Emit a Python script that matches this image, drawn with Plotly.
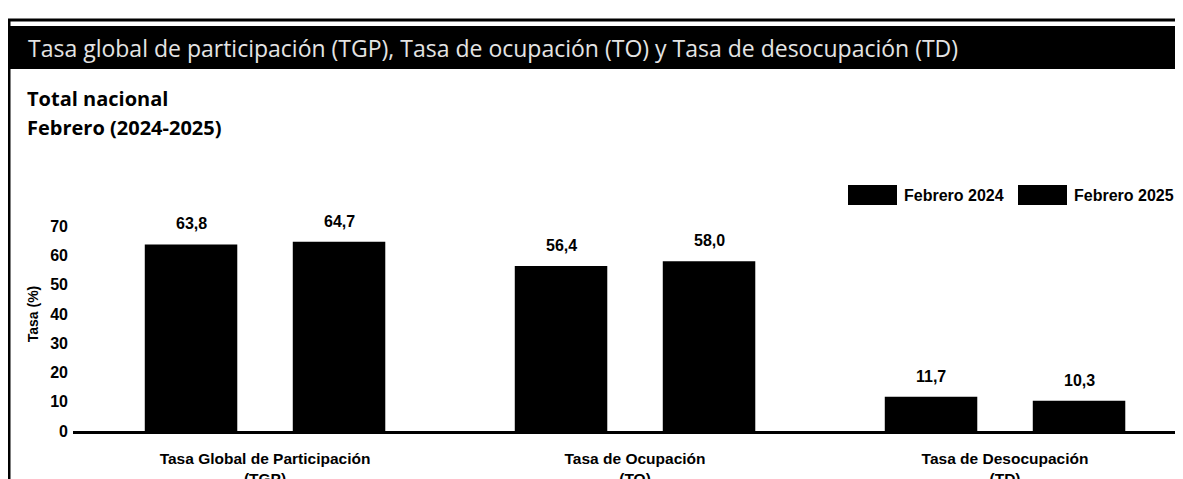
import plotly.graph_objects as go

# ---- data ----
categories = ["Tasa Global de Participación<br>(TGP)",
              "Tasa de Ocupación<br>(TO)",
              "Tasa de Desocupación<br>(TD)"]
series_names = ["Febrero 2024", "Febrero 2025"]
values_2024 = [63.8, 56.4, 11.7]
values_2025 = [64.7, 58.0, 10.3]
y_ticks = [0, 10, 20, 30, 40, 50, 60, 70]

title_text = "Tasa global de participación (TGP), Tasa de ocupación (TO) y Tasa de desocupación (TD)"
subtitle_1 = "Total nacional"
subtitle_2 = "Febrero (2024-2025)"
y_title = "Tasa (%)"

# ---- layout geometry (pixels) ----
# the page body has an 8px default margin, so the figure is offset by 8px
OFF = 8
W, H = 1183 - OFF, 479 - OFF
L, R = 73 - OFF, 0
T = 197 - OFF
B = H - (431 - OFF)
plot_w = W - L - R
plot_h = H - T - B


def px_x(x_page):
    return (x_page - OFF - L) / plot_w


def px_y(y_page):
    return (H - B - (y_page - OFF)) / plot_h


SANS = "Liberation Sans, Arial"

fig = go.Figure()
for name, vals in zip(series_names, [values_2024, values_2025]):
    fig.add_trace(go.Bar(x=categories, y=vals, name=name,
                         marker=dict(color="black", line=dict(width=0)),
                         showlegend=False))

# value labels above bars
offsets = [-0.2, 0.2]
annotations = []
for off, vals in zip(offsets, [values_2024, values_2025]):
    for i, v in enumerate(vals):
        annotations.append(dict(x=i + off, y=v, xref="x", yref="y",
                                text=f"{v:.1f}".replace(".", ","),
                                showarrow=False, yanchor="bottom", yshift=10,
                                font=dict(family=SANS, size=16,
                                          color="black", weight="bold")))

# frame, title bar + subtitles
shapes = [
    dict(type="rect", xref="paper", yref="paper",
         x0=px_x(10), x1=px_x(1183), y0=px_y(69), y1=px_y(26),
         fillcolor="black", line=dict(width=0), layer="below"),
    dict(type="line", xref="paper", yref="paper",
         x0=px_x(8), x1=px_x(1183), y0=px_y(20), y1=px_y(20),
         line=dict(color="black", width=3)),
    dict(type="line", xref="paper", yref="paper",
         x0=px_x(9), x1=px_x(9), y0=px_y(20), y1=px_y(479),
         line=dict(color="black", width=3)),
]
annotations.append(dict(x=px_x(26), y=px_y(48), xref="paper", yref="paper",
                        text=title_text, showarrow=False, xanchor="left", yanchor="middle",
                        font=dict(family="Open Sans", size=23, color="#e4e4e4")))
annotations.append(dict(x=px_x(25), y=px_y(99), xref="paper", yref="paper",
                        text=subtitle_1, showarrow=False, xanchor="left", yanchor="middle",
                        font=dict(family="Open Sans", size=20, color="black", weight="bold")))
annotations.append(dict(x=px_x(25), y=px_y(128), xref="paper", yref="paper",
                        text=subtitle_2, showarrow=False, xanchor="left", yanchor="middle",
                        font=dict(family="Open Sans", size=20, color="black", weight="bold")))

# custom legend (large swatches)
legend_items = [(848, series_names[0]), (1018, series_names[1])]
for x0, name in legend_items:
    shapes.append(dict(type="rect", xref="paper", yref="paper",
                       x0=px_x(x0), x1=px_x(x0 + 49), y0=px_y(205), y1=px_y(185),
                       fillcolor="black", line=dict(width=0)))
    annotations.append(dict(x=px_x(x0 + 54), y=px_y(195), xref="paper", yref="paper",
                            text=name, showarrow=False, xanchor="left", yanchor="middle",
                            font=dict(family=SANS, size=16, color="black", weight="bold")))

fig.update_layout(
    width=W, height=H,
    margin=dict(l=L, r=R, t=T, b=B, autoexpand=False),
    plot_bgcolor="white", paper_bgcolor="white",
    barmode="group", bargap=0.2, bargroupgap=0.375,
    shapes=shapes, annotations=annotations,
    showlegend=False,
)
fig.update_xaxes(type="category", range=[-0.519, 2.481], automargin=False,
                 showline=True, linecolor="black", linewidth=3,
                 showgrid=False, ticks="", ticklabelstandoff=11,
                 tickfont=dict(family=SANS, size=15.5, color="black", weight="bold"))
fig.update_yaxes(range=[0, 80], tickvals=y_ticks, showgrid=False, zeroline=False,
                 automargin=False,
                 showline=False, ticks="", ticklabelstandoff=4,
                 tickfont=dict(family=SANS, size=16, color="black", weight="bold"),
                 title=dict(text=y_title, standoff=8,
                            font=dict(family=SANS, size=14, color="black", weight="bold")))

fig.write_html("out.html")
